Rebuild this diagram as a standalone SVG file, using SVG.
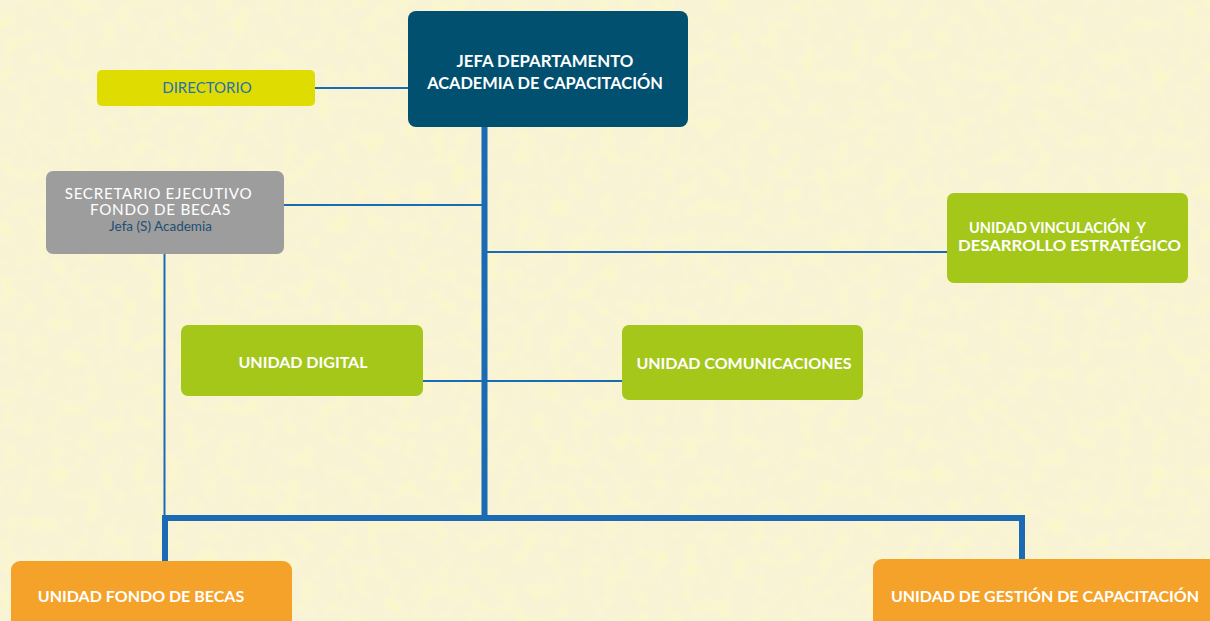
<svg xmlns="http://www.w3.org/2000/svg" width="1210" height="621" viewBox="0 0 1210 621">
<style>
.b{font-family:Lato,"Open Sans","Liberation Sans",sans-serif;font-weight:bold;fill:#ffffff;font-size:16px;text-anchor:middle;white-space:pre}
.s{font-family:Lato,"Liberation Sans",sans-serif;fill:#ffffff;font-size:15.2px;text-anchor:middle;letter-spacing:0.7px}
.thin{stroke:#1a6bb3;stroke-width:2;fill:none}
.thick{stroke:#1a6bb3;stroke-width:6;fill:none}
</style>
<defs>
<filter id="speck" x="0" y="0" width="100%" height="100%">
<feTurbulence type="fractalNoise" baseFrequency="0.06" numOctaves="2" seed="3" result="n"/>
<feColorMatrix in="n" type="matrix" values="0 0 0 0 0.98  0 0 0 0 0.95  0 0 0 0 0.55  0 0 0 3 -1.45"/>
</filter>
</defs>
<rect x="0" y="0" width="1210" height="621" fill="#f8f3d5"/>
<rect x="0" y="0" width="1210" height="621" filter="url(#speck)" opacity="0.6"/>
<g id="connectors">
<line class="thin" x1="315" y1="88" x2="408" y2="88"/>
<line class="thick" x1="484.5" y1="127" x2="484.5" y2="518"/>
<line class="thin" x1="284" y1="205" x2="484" y2="205"/>
<line class="thin" x1="487" y1="252" x2="947" y2="252"/>
<line class="thin" x1="423" y1="381" x2="622" y2="381"/>
<line class="thin" x1="164.5" y1="254" x2="164.5" y2="516"/>
<polyline class="thick" points="165,561 165,518 1022,518 1022,561"/>
</g>
<g id="jefa">
<rect x="408" y="11" width="280" height="116" rx="8" fill="#01506f"/>
<text class="b" x="545" y="67" style="font-size:16.8px">JEFA DEPARTAMENTO</text>
<text class="b" x="545" y="89" style="font-size:16.4px">ACADEMIA DE CAPACITACIÓN</text>
</g>
<g id="directorio">
<rect x="97" y="70" width="218" height="36" rx="5" fill="#dedc00"/>
<text x="207" y="93" font-family="Lato,'Liberation Sans',sans-serif" font-size="15" fill="#2a6fb5" text-anchor="middle">DIRECTORIO</text>
</g>
<g id="secretario">
<rect x="46" y="171" width="238" height="83" rx="7" fill="#9d9d9d"/>
<text class="s" x="158.5" y="199">SECRETARIO EJECUTIVO</text>
<text class="s" x="160.5" y="215">FONDO DE BECAS</text>
<text x="160.5" y="231" font-family="Lato,'Liberation Sans',sans-serif" font-size="13.5" fill="#1d4f73" text-anchor="middle">Jefa (S) Academia</text>
</g>
<g id="vinculacion">
<rect x="947" y="193" width="241" height="90" rx="7" fill="#a4c71a"/>
<text class="b" x="1057.5" y="233" textLength="177" lengthAdjust="spacingAndGlyphs">UNIDAD VINCULACIÓN  Y</text>
<text class="b" x="1069.5" y="251" textLength="223" lengthAdjust="spacingAndGlyphs">DESARROLLO ESTRATÉGICO</text>
</g>
<g id="digital">
<rect x="181" y="325" width="242" height="71" rx="7" fill="#a4c71a"/>
<text class="b" x="303" y="368">UNIDAD DIGITAL</text>
</g>
<g id="comunicaciones">
<rect x="622" y="325" width="241" height="75" rx="7" fill="#a4c71a"/>
<text class="b" x="744" y="369">UNIDAD COMUNICACIONES</text>
</g>
<g id="fondo">
<rect x="11" y="561" width="281" height="80" rx="9" fill="#f4a229"/>
<text class="b" x="141" y="602">UNIDAD FONDO DE BECAS</text>
</g>
<g id="gestion">
<rect x="873" y="559" width="345" height="80" rx="9" fill="#f4a229"/>
<text class="b" x="1045" y="602">UNIDAD DE GESTIÓN DE CAPACITACIÓN</text>
</g>
</svg>
